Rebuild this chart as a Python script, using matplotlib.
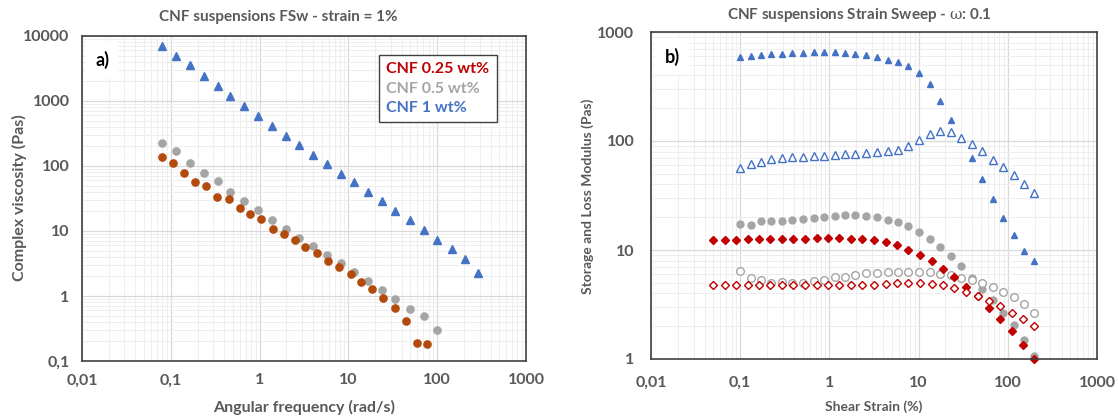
import matplotlib
matplotlib.use("Agg")
import matplotlib.pyplot as plt
from matplotlib.lines import Line2D

plt.rcParams["font.family"] = ["Lato", "DejaVu Sans"]
plt.rcParams["mathtext.fontset"] = "dejavuserif"

# ---- panel a: frequency sweep, complex viscosity ----
freq_025 = [0.079, 0.106, 0.142, 0.186, 0.247, 0.333, 0.448, 0.597, 0.781, 1.04,
            1.40, 1.88, 2.49, 3.26, 4.39, 5.96, 7.87, 10.6, 13.8, 18.5,
            24.8, 33.1, 44.2, 58.9, 77.7]
eta_025 = [136, 110, 79, 57, 50, 33.3, 31, 22.6, 18, 15.1,
           10.6, 9.1, 7.36, 5.6, 4.54, 3.47, 2.77, 2.16, 1.65, 1.3,
           0.93, 0.643, 0.41, 0.19, 0.184]

freq_05 = [0.080, 0.114, 0.163, 0.234, 0.336, 0.465, 0.667, 0.967, 1.38, 1.96,
           2.81, 4.04, 5.79, 8.16, 11.6, 16.7, 23.7, 33.7, 48.9, 70.2, 99.8]
eta_05 = [228, 168, 110, 78, 58, 39.8, 29.2, 21.0, 14.6, 10.7,
          7.9, 5.8, 4.28, 3.19, 2.35, 1.71, 1.25, 0.89, 0.635, 0.49, 0.30]

freq_1 = [0.080, 0.114, 0.163, 0.234, 0.336, 0.465, 0.667, 0.967, 1.38, 1.96,
          2.81, 4.04, 5.79, 8.16, 11.6, 16.7, 23.7, 33.7, 48.9, 70.2,
          99.8, 145, 204, 290]
eta_1 = [7100, 4920, 3540, 2430, 1680, 1210, 840, 594, 412, 293,
         208, 149, 106, 76, 56, 39.8, 28.7, 20.5, 14.6, 10.4,
         7.36, 5.3, 3.67, 2.27]

# ---- panel b: strain sweep, storage (G') and loss (G'') moduli ----
strain_025 = [0.050, 0.067, 0.090, 0.121, 0.164, 0.217, 0.292, 0.392, 0.530, 0.718,
              0.964, 1.29, 1.74, 2.33, 3.13, 4.27, 5.73, 7.69, 10.5, 14.0,
              18.6, 24.9, 33.8, 45.8, 60.9, 80.9, 111, 149, 199]
g1_025 = [12.4, 12.4, 12.4, 12.5, 12.5, 12.7, 12.7, 12.7, 12.7, 13.0,
          13.0, 13.0, 12.7, 12.7, 12.4, 11.8, 11.1, 10.07, 9.06, 7.98,
          6.73, 5.60, 4.60, 3.77, 2.95, 2.33, 1.80, 1.34, 1.0]
g2_025 = [4.80, 4.80, 4.73, 4.73, 4.73, 4.73, 4.73, 4.73, 4.73, 4.73,
          4.73, 4.73, 4.73, 4.80, 4.80, 4.90, 4.97, 5.00, 4.97, 4.90,
          4.73, 4.47, 4.14, 3.77, 3.42, 3.05, 2.67, 2.33, 2.00]

strain_05_1 = [0.100, 0.131, 0.171, 0.224, 0.292, 0.385, 0.511, 0.667, 0.871, 1.15,
               1.50, 1.95, 2.60, 3.43, 4.52, 5.89, 7.69, 10.1, 13.4, 17.5,
               22.8, 30.0, 39.2, 51.6, 68.0, 88.7, 116, 153, 199]
g1_05 = [17.4, 17.1, 18.4, 18.4, 18.6, 19.0, 19.3, 19.7, 20.1, 20.6,
         20.8, 20.8, 20.4, 20.0, 19.0, 18.0, 16.5, 14.6, 12.6, 10.7,
         8.8, 7.08, 5.52, 4.35, 3.47, 2.67, 2.04, 1.49, 1.06]
g2_05 = [6.45, 5.56, 5.30, 5.00, 5.08, 4.97, 4.97, 5.19, 5.30, 5.60,
         5.69, 5.93, 6.10, 6.18, 6.23, 6.23, 6.32, 6.28, 6.28, 6.02,
         5.85, 5.56, 5.30, 4.93, 4.57, 4.11, 3.67, 3.21, 2.67]
g1_1 = [590, 602, 615, 629, 629, 637, 637, 651, 651, 651,
        637, 629, 615, 594, 557, 531, 484, 418, 331, 234,
        157, 106, 69.8, 45.1, 29.6, 19.8, 13.7, 9.86, 7.92]
g2_1 = [56.5, 61.9, 64.6, 68.4, 69.3, 71.8, 71.8, 73.3, 73.3, 74.4,
        76.0, 76.0, 77.6, 78.7, 80.4, 83.2, 89.3, 102, 117, 123,
        120, 106, 93.8, 80.4, 67.4, 57.7, 48.4, 40.6, 33.3]

legend_labels = ["CNF 0.25 wt%", "CNF 0.5 wt%", "CNF 1 wt%"]
x_ticks = [0.01, 0.1, 1, 10, 100, 1000]
x_tick_labels = ["0,01", "0,1", "1", "10", "100", "1000"]
ya_ticks = [0.1, 1, 10, 100, 1000, 10000]
ya_tick_labels = ["0,1", "1", "10", "100", "1000", "10000"]
yb_ticks = [1, 10, 100, 1000]
yb_tick_labels = ["1", "10", "100", "1000"]

RED = "#c00000"
BROWN = "#b34a0c"
GRAY = "#a5a5a5"
BLUE = "#4472c4"
TXT = "#595959"

W, H = 1118, 417
fig = plt.figure(figsize=(W / 100, H / 100), dpi=100)


def px_axes(x0, y0, x1, y1):
    return fig.add_axes([x0 / W, 1 - y1 / H, (x1 - x0) / W, (y1 - y0) / H])


def style(ax, yticks, ylabels, pad):
    ax.set_xscale("log")
    ax.set_yscale("log")
    ax.set_xlim(0.01, 1000)
    ax.set_ylim(yticks[0], yticks[-1])
    ax.set_xticks(x_ticks, x_tick_labels)
    ax.set_yticks(yticks, ylabels)
    ax.minorticks_on()
    ax.tick_params(which="both", length=0, pad=pad, labelsize=11.5,
                   labelcolor=TXT)
    for lab in ax.get_xticklabels() + ax.get_yticklabels():
        lab.set_fontweight("bold")
    ax.grid(True, which="major", color="#d9d9d9", lw=0.9)
    ax.grid(True, which="minor", color="#eeeeee", lw=0.7)
    ax.set_axisbelow(True)
    for sp in ax.spines.values():
        sp.set_color("#404040")
        sp.set_linewidth(1.2)


# panel a
axa = px_axes(82, 36, 526, 361)
style(axa, ya_ticks, ya_tick_labels, 9)
axa.plot(freq_1, eta_1, ls="none", marker="^", ms=6, color=BLUE, mec=BLUE)
axa.plot(freq_05, eta_05, ls="none", marker="o", ms=5.2, color=GRAY, mec=GRAY)
axa.plot(freq_025, eta_025, ls="none", marker="o", ms=5.2, color=BROWN, mec=BROWN)

handles = [Line2D([], [], ls="none") for _ in legend_labels]
leg = axa.legend(handles, legend_labels, loc="upper right",
                 bbox_to_anchor=(0.952, 0.966), handlelength=0, handletextpad=0,
                 fancybox=False, framealpha=1, edgecolor="#404040",
                 borderpad=0.45, labelspacing=0.33,
                 prop={"size": 11.5, "weight": "bold"})
leg.get_frame().set_linewidth(1.0)
for t, c in zip(leg.get_texts(), [RED, GRAY, BLUE]):
    t.set_color(c)

axa.text(0.03, 0.925, "a)", transform=axa.transAxes, fontsize=13,
         fontweight="bold", color="black", va="center", ha="left",
         bbox=dict(boxstyle="square,pad=0.5", fc="white", ec="none"))

fig.text(278 / W, 1 - 17 / H, "CNF suspensions FSw - strain = 1%",
         ha="center", va="center", fontsize=11, fontweight="bold", color=TXT)
fig.text(304 / W, 1 - 407 / H, "Angular frequency (rad/s)", ha="center",
         va="center", fontsize=11.5, fontweight="bold", color=TXT)
fig.text(19 / W, 1 - 198 / H, "Complex viscosity (Pas)", ha="center",
         va="center", rotation=90, fontsize=11.5, fontweight="bold", color=TXT)

# panel b
axb = px_axes(651, 32, 1097, 359)
style(axb, yb_ticks, yb_tick_labels, 12)
axb.plot(strain_05_1, g1_1, ls="none", marker="^", ms=5, color=BLUE,
         mec=BLUE, clip_on=False)
axb.plot(strain_05_1, g2_1, ls="none", marker="^", ms=5.5, mfc="white",
         mec=BLUE, mew=1.0, clip_on=False)
axb.plot(strain_05_1, g1_05, ls="none", marker="o", ms=5, color=GRAY,
         mec=GRAY, clip_on=False)
axb.plot(strain_05_1, g2_05, ls="none", marker="o", ms=5.5, mfc="white",
         mec=GRAY, mew=1.0, clip_on=False)
axb.plot(strain_025, g1_025, ls="none", marker="D", ms=4, color=RED,
         mec=RED, clip_on=False)
axb.plot(strain_025, g2_025, ls="none", marker="D", ms=4.2, mfc="white",
         mec=RED, mew=1.0, clip_on=False)

axb.text(0.03, 0.925, "b)", transform=axb.transAxes, fontsize=13,
         fontweight="bold", color="black", va="center", ha="left",
         bbox=dict(boxstyle="square,pad=0.5", fc="white", ec="none"))

fig.text(859 / W, 1 - 15 / H, r"CNF suspensions Strain Sweep - $\mathrm{\omega}$: 0.1",
         ha="center", va="center", fontsize=11, fontweight="bold", color=TXT)
fig.text(874 / W, 1 - 407 / H, "Shear Strain (%)", ha="center",
         va="center", fontsize=10, fontweight="bold", color=TXT)
fig.text(588 / W, 1 - 196 / H, "Storage and Loss Modulus (Pas)", ha="center",
         va="center", rotation=90, fontsize=10, fontweight="bold", color=TXT)

fig.savefig("out.png", dpi=100, facecolor="white")
